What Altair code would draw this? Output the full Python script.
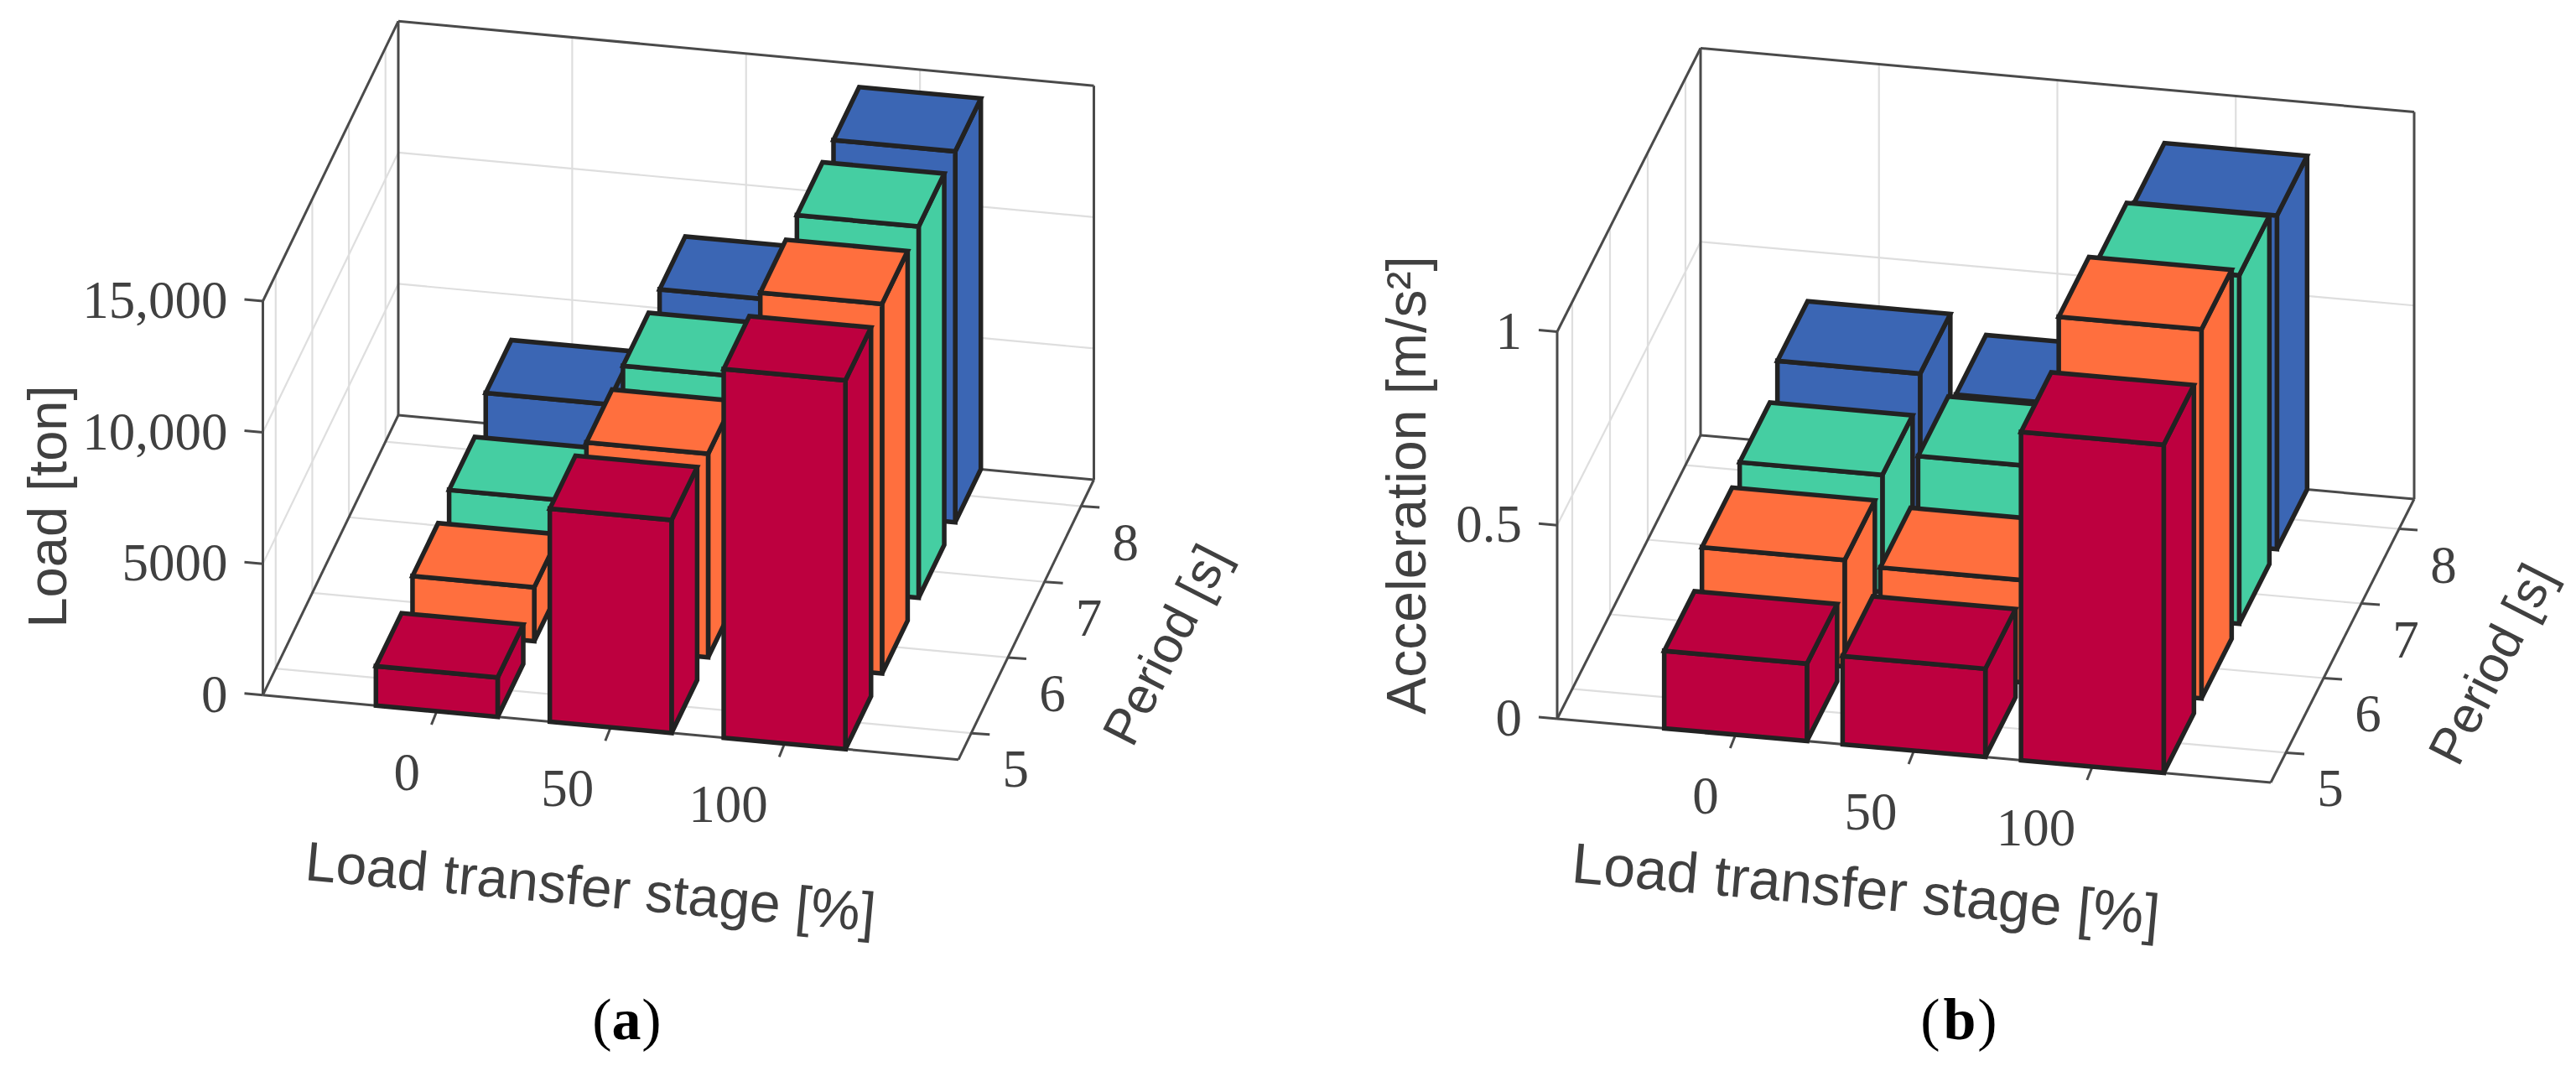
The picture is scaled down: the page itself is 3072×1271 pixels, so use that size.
import altair as alt

# ---- data ----
stages = [0, 50, 100]
periods = [8, 7, 6, 5]
period_colors = {5: "#BD003F", 6: "#FF6F3E", 7: "#45CEA2", 8: "#3B66B4"}

load_p5 = [1500, 8110, 14040]
load_p6 = [2050, 7750, 14070]
load_p7 = [2450, 7790, 14140]
load_p8 = [3260, 7820, 14120]

acc_p5 = [0.200, 0.228, 0.848]
acc_p6 = [0.275, 0.264, 0.953]
acc_p7 = [0.302, 0.359, 0.900]
acc_p8 = [0.371, 0.325, 0.862]

z_ticks_a = [0, 5000, 10000, 15000]
z_labels_a = ["0", "5000", "10,000", "15,000"]
z_ticks_b = [0, 0.5, 1]
z_labels_b = ["0", "0.5", "1"]

DARK = "#222222"
FRAME = "#4a4a4a"
GRID = "#dedede"
TEXT = "#404040"
SERIF = "Liberation Serif"
SANS = "Liberation Sans"

panels = [
    dict(origin=(313.5, 828.7), sv=(829.5, 77.0), pv=(161.5, -333.7), zv=-469.7,
         zmax=15000, plim=(4.65, 8.35), bw=35, bd=0.7, series={5: load_p5, 6: load_p6, 7: load_p7, 8: load_p8},
         zt=z_ticks_a, zl=z_labels_a,
         ztitle="Load [ton]", ztitle_xy=(59, 604), ztitle_fs=65,
         xtitle_xy=(704, 1060), xtitle_fs=66, xtitle_ang=5.2,
         ptitle_xy=(1393, 770), ptitle_fs=61),
    dict(origin=(1857.0, 857.0), sv=(851.0, 76.0), pv=(171.0, -338.0), zv=-461.5,
         zmax=1, plim=(4.6, 8.4), bw=40, bd=0.8, series={5: acc_p5, 6: acc_p6, 7: acc_p7, 8: acc_p8},
         zt=z_ticks_b, zl=z_labels_b,
         ztitle="Acceleration [m/s\u00b2]", ztitle_xy=(1680, 578.5), ztitle_fs=66,
         xtitle_xy=(2225, 1063), xtitle_fs=68, xtitle_ang=5.1,
         ptitle_xy=(2974, 793), ptitle_fs=61),
]

features = []


def feat(kind, coords, fill, stroke, sw):
    geom = {"type": "Polygon", "coordinates": [coords + [coords[0]]]} if kind == "poly" else {
        "type": "LineString", "coordinates": coords}
    features.append({"type": "Feature", "geometry": geom,
                     "properties": {"fill": fill, "stroke": stroke, "sw": sw}})


# extent of the picture, so that the identity projection keeps a scale of 1
feat("poly", [[8, 8], [3064, 8], [3064, 1263], [8, 1263]], "transparent", "transparent", 0)

texts = []


def add_text(text, x, y, size, font=SERIF, align="center", angle=0, color=TEXT, weight="normal"):
    texts.append(dict(text=text, x=x, y=y, size=size, font=font, align=align,
                      angle=angle % 360, color=color, weight=weight))


for P in panels:
    smin, smax = -50.0, 150.0
    plo, phi = P["plim"]

    def proj(s, p, z, P=P, smin=smin, smax=smax, plo=plo, phi=phi):
        fs = (s - smin) / (smax - smin)
        fp = (p - plo) / (phi - plo)
        fz = z / P["zmax"]
        return [P["origin"][0] + fs * P["sv"][0] + fp * P["pv"][0],
                P["origin"][1] + fs * P["sv"][1] + fp * P["pv"][1] + fz * P["zv"]]

    top = P["zmax"]
    # grid
    for s in stages:
        feat("line", [proj(s, phi, 0), proj(s, phi, top)], "transparent", GRID, 2.2)
        feat("line", [proj(s, plo, 0), proj(s, phi, 0)], "transparent", GRID, 2.2)
    for p in periods:
        feat("line", [proj(smin, p, 0), proj(smin, p, top)], "transparent", GRID, 2.2)
        feat("line", [proj(smin, p, 0), proj(smax, p, 0)], "transparent", GRID, 2.2)
    for z in P["zt"]:
        if 0 < z < top:
            feat("line", [proj(smin, phi, z), proj(smax, phi, z)], "transparent", GRID, 2.2)
            feat("line", [proj(smin, plo, z), proj(smin, phi, z)], "transparent", GRID, 2.2)
    # frame
    frame_edges = [
        ((smin, plo, 0), (smin, plo, top)), ((smin, phi, 0), (smin, phi, top)),
        ((smax, phi, 0), (smax, phi, top)), ((smin, plo, top), (smin, phi, top)),
        ((smin, phi, top), (smax, phi, top)), ((smin, plo, 0), (smin, phi, 0)),
        ((smin, phi, 0), (smax, phi, 0)), ((smin, plo, 0), (smax, plo, 0)),
        ((smax, plo, 0), (smax, phi, 0)),
    ]
    for a, b in frame_edges:
        feat("line", [proj(*a), proj(*b)], "transparent", FRAME, 3)
    # ticks and tick labels
    for z, lab in zip(P["zt"], P["zl"]):
        a = proj(smin, plo, z)
        feat("line", [[a[0] - 22, a[1] - 2], a], "transparent", FRAME, 3)
        add_text(lab, a[0] - 42, a[1] + 1, 63, align="right")
    for s in stages:
        a = proj(s, plo, 0)
        feat("line", [a, [a[0] - 6.4, a[1] + 16]], "transparent", FRAME, 3)
        add_text(str(s), a[0] - 20, a[1] + 75, 63, align="right")
    for p in periods:
        a = proj(smax, p, 0)
        feat("line", [a, [a[0] + 22, a[1] + 1.5]], "transparent", FRAME, 3)
        add_text(str(p), a[0] + 53, a[1] + 45, 63)
    # bars, back to front
    hw = P["bw"] / 2.0
    hd = P["bd"] / 2.0
    for p in periods:
        col = period_colors[p]
        for i, s in enumerate(stages):
            v = P["series"][p][i]
            s0, s1 = s - hw, s + hw
            p0, p1 = p - hd, p + hd
            feat("poly", [proj(s1, p0, 0), proj(s1, p1, 0), proj(s1, p1, v), proj(s1, p0, v)], col, DARK, 5.5)
            feat("poly", [proj(s0, p0, 0), proj(s1, p0, 0), proj(s1, p0, v), proj(s0, p0, v)], col, DARK, 5.5)
            feat("poly", [proj(s0, p0, v), proj(s1, p0, v), proj(s1, p1, v), proj(s0, p1, v)], col, DARK, 5.5)
    # titles
    add_text(P["ztitle"], *P["ztitle_xy"], P["ztitle_fs"], font=SANS, angle=270)
    add_text("Load transfer stage [%]", *P["xtitle_xy"], P["xtitle_fs"], font=SANS, angle=P["xtitle_ang"])
    add_text("Period [s]", *P["ptitle_xy"], P["ptitle_fs"], font=SANS, angle=297)

# captions
for ch, x, w in [("(", 718, "normal"), ("a", 747, "bold"), (")", 777, "normal"),
                 ("(", 2302, "normal"), ("b", 2337, "bold"), (")", 2370, "normal")]:
    add_text(ch, x, 1218, 70, color="#000000", weight=w)

shapes = alt.Chart(alt.Data(values=features)).mark_geoshape(strokeJoin="miter").encode(
    fill=alt.Fill("properties.fill:N", scale=None),
    stroke=alt.Stroke("properties.stroke:N", scale=None),
    strokeWidth=alt.StrokeWidth("properties.sw:Q", scale=None),
).project(type="identity")

layers = [shapes]
for t in texts:
    layers.append(
        alt.Chart(alt.Data(values=[t])).mark_text(
            align=t["align"], baseline="middle", font=t["font"], fontSize=t["size"],
            angle=t["angle"], color=t["color"], fontWeight=t["weight"],
        ).encode(
            longitude=alt.Longitude("x:Q"), latitude=alt.Latitude("y:Q"), text=alt.Text("text:N")
        ).project(type="identity")
    )

chart = alt.layer(*layers).properties(width=3056, height=1255, padding=0, autosize="none",
                                      background="white").configure_view(stroke=None)
chart.save("out.html", embed_options={"renderer": "svg", "actions": False})
